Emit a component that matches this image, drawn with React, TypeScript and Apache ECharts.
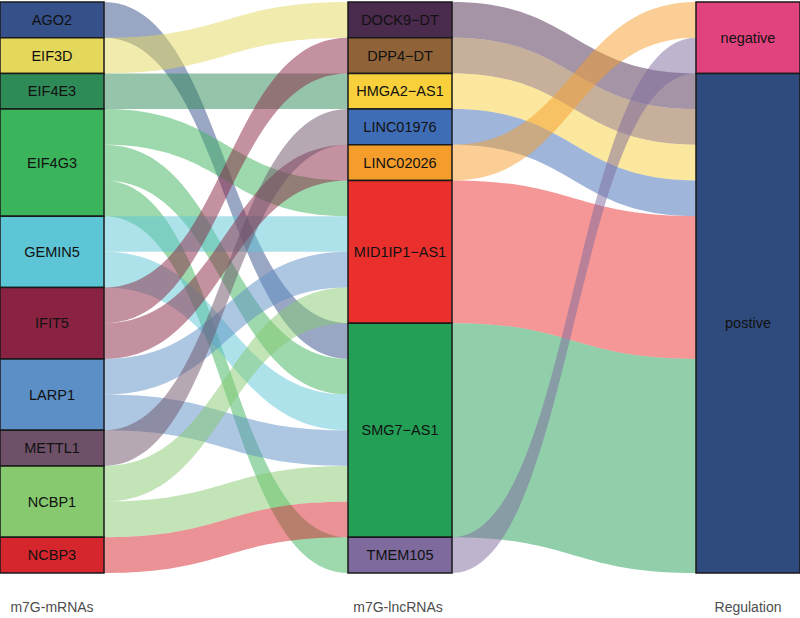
import React, { useEffect, useRef } from "react";
import * as echarts from "echarts";

const mrnas = ["AGO2", "EIF3D", "EIF4E3", "EIF4G3", "GEMIN5", "IFIT5", "LARP1", "METTL1", "NCBP1", "NCBP3"];
const mrnaColors = ["#36508a", "#e3d75c", "#2e8a56", "#3bb45c", "#5ec5d6", "#8a2341", "#5b8fc5", "#6e5168", "#86c96f", "#d5262e"];

const lncrnas = ["DOCK9−DT", "DPP4−DT", "HMGA2−AS1", "LINC01976", "LINC02026", "MID1IP1−AS1", "SMG7−AS1", "TMEM105"];
const lncColors = ["#4a2a4d", "#8f6237", "#f8d03c", "#3f6db5", "#f59d2b", "#ea302d", "#23a055", "#7e6a9d"];

const regulations = ["negative", "postive"];
const regColors = ["#e0437d", "#2f4b7d"];

// mRNA -> lncRNA pairs (one alluvium each)
const pairMrna = ["AGO2", "EIF3D", "EIF4E3", "EIF4G3", "EIF4G3", "EIF4G3", "GEMIN5", "GEMIN5", "IFIT5", "IFIT5", "LARP1", "LARP1", "METTL1", "NCBP1", "NCBP1", "NCBP3"];
const pairLnc = ["SMG7−AS1", "DOCK9−DT", "HMGA2−AS1", "MID1IP1−AS1", "SMG7−AS1", "TMEM105", "MID1IP1−AS1", "SMG7−AS1", "DPP4−DT", "LINC02026", "MID1IP1−AS1", "SMG7−AS1", "LINC01976", "MID1IP1−AS1", "SMG7−AS1", "SMG7−AS1"];

// lncRNA -> regulation
const lncRegulation = ["postive", "postive", "postive", "postive", "negative", "postive", "postive", "negative"];

const axisTitles = ["m7G-mRNAs", "m7G-lncRNAs", "Regulation"];

const FONT = "'Liberation Sans', Arial, Helvetica, sans-serif";

export default function App() {
  const ref = useRef<HTMLDivElement>(null);
  useEffect(() => {
    if (!ref.current) return;
    const chart = echarts.init(ref.current, undefined, { renderer: "svg" });

    const nodes: any[] = [];
    mrnas.forEach((n, i) => nodes.push({ name: n, itemStyle: { color: mrnaColors[i] } }));
    lncrnas.forEach((n, i) => nodes.push({ name: n, itemStyle: { color: lncColors[i] } }));
    regulations.forEach((n, i) => nodes.push({ name: n, itemStyle: { color: regColors[i] } }));

    const links: any[] = [];
    pairMrna.forEach((m, i) => links.push({ source: m, target: pairLnc[i], value: 1 }));
    lncrnas.forEach((l) => {
      const count = pairLnc.filter((x) => x === l).length;
      links.push({ source: l, target: lncRegulation[lncrnas.indexOf(l)], value: count });
    });

    const W = 800;
    const nodeW = 104;
    const colX = [nodeW / 2, W / 2 - 2, W - nodeW / 2];

    chart.setOption({
      animation: false,
      backgroundColor: "#ffffff",
      series: [
        {
          type: "sankey",
          left: 0,
          right: 0,
          top: 2,
          bottom: 45,
          nodeWidth: nodeW,
          nodeGap: 0,
          layoutIterations: 0,
          draggable: false,
          nodeAlign: "justify",
          emphasis: { disabled: true },
          data: nodes,
          links: links,
          itemStyle: { borderColor: "#1a1a1a", borderWidth: 1.5, opacity: 1 },
          lineStyle: { color: "source", opacity: 0.5, curveness: 0.5 },
          label: {
            show: true,
            position: "inside",
            color: "#111111",
            fontSize: 14.5,
            fontFamily: FONT,
          },
        },
      ],
      graphic: axisTitles.map((t, i) => ({
        type: "text",
        x: colX[i],
        y: 607,
        style: {
          text: t,
          fill: "#4d4d4d",
          fontSize: 14,
          fontFamily: FONT,
          textAlign: "center",
          textVerticalAlign: "middle",
        },
      })),
    });
    return () => chart.dispose();
  }, []);
  return <div ref={ref} style={{ width: 800, height: 618, position: "absolute", left: 0, top: 0 }} />;
}
